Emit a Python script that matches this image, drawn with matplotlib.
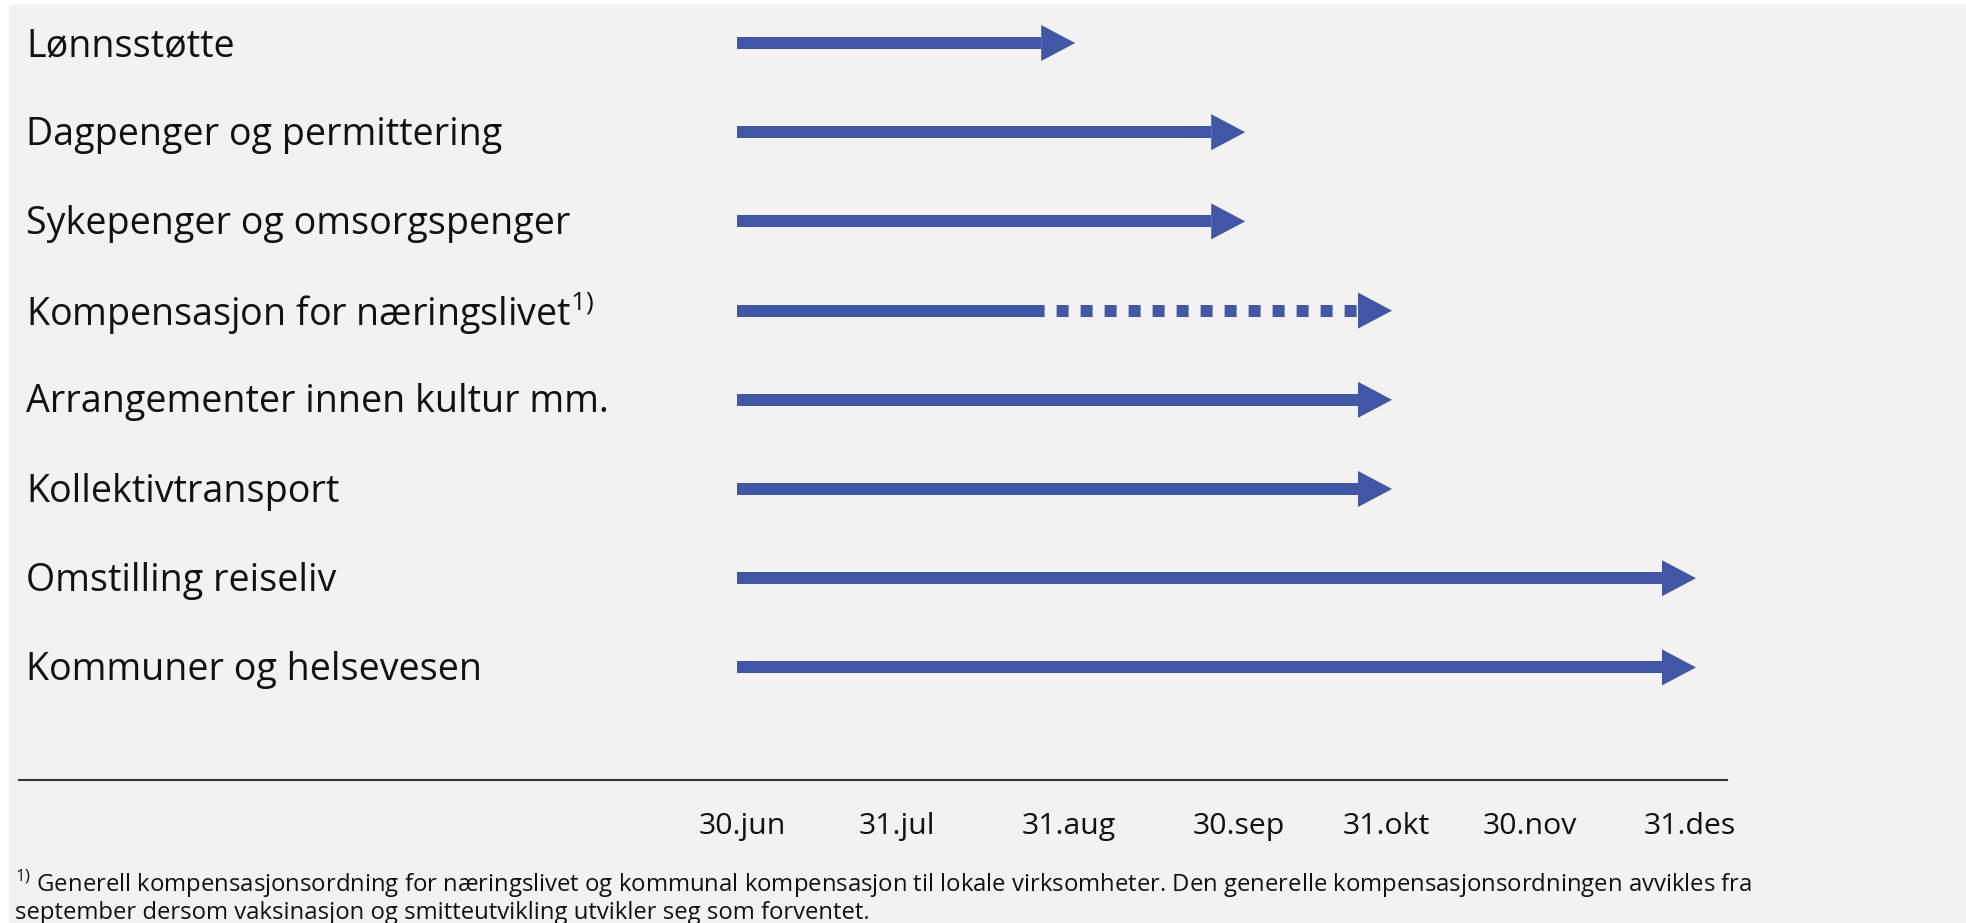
import matplotlib
matplotlib.use("Agg")
import matplotlib.pyplot as plt
from matplotlib.patches import Polygon, Rectangle
from matplotlib.transforms import blended_transform_factory

plt.rcParams["font.family"] = ["Open Sans", "DejaVu Sans"]
plt.rcParams["mathtext.fontset"] = "custom"
plt.rcParams["mathtext.rm"] = "Open Sans"

# x axis: tick labels and where they sit (days after 30.jun)
ticks = ["30.jun", "31.jul", "31.aug", "30.sep", "31.okt", "30.nov", "31.des"]
tick_days = [0, 30, 63.5, 96.5, 125, 153, 184]

labels = ["Lønnsstøtte",
          "Dagpenger og permittering",
          "Sykepenger og omsorgspenger",
          "Kompensasjon for næringslivet$^{\\mathrm{1)}}$",
          "Arrangementer innen kultur mm.",
          "Kollektivtransport",
          "Omstilling reiseliv",
          "Kommuner og helsevesen"]
starts = ["30.jun"] * 8
ends = ["31.aug", "30.sep", "30.sep", "31.okt", "31.okt", "31.okt", "31.des", "31.des"]
dotted_from = [None, None, None, "31.aug", None, None, None, None]

footnote = ["$^{\\mathrm{1)}}$ Generell kompensasjonsordning for næringslivet og kommunal kompensasjon "
            "til lokale virksomheter. Den generelle kompensasjonsordningen avvikles fra",
            "september dersom vaksinasjon og smitteutvikling utvikler seg som forventet."]

blue = "#4157a6"
W, H = 1966, 923
fig = plt.figure(figsize=(W / 100, H / 100), dpi=100)
fig.patches.append(Rectangle((9 / W, 0), 1, (H - 5) / H, transform=fig.transFigure,
                             color="#f2f2f2", zorder=-10))

ax = fig.add_axes([19 / W, (H - 780) / H, (1727 - 19) / W, 780 / H])
ax.set_facecolor("none")
px_per_day = (1690 - 742) / 184.0
ax.set_xlim((19 - 742) / px_per_day, (1727 - 742) / px_per_day)
row_px = 89.2
ax.set_ylim((780 - 43) / row_px, -43 / row_px)

pos = dict(zip(ticks, tick_days))
head_len = 34 / px_per_day
head_half = 18 / row_px
overhang_l = 5 / px_per_day
overhang_r = 6 / px_per_day
lw = 12 * 0.72

for i, lab in enumerate(labels):
    x0 = pos[starts[i]] - overhang_l
    tip = pos[ends[i]] + overhang_r
    base = tip - head_len
    if dotted_from[i] is not None:
        xd = pos[dotted_from[i]] + overhang_r - head_len
        ax.plot([x0, xd], [i, i], color=blue, lw=lw, solid_capstyle="butt")
        ax.plot([xd, base], [i, i], color=blue, lw=lw, dash_capstyle="butt",
                linestyle=(0.7, (1, 1)))
    else:
        ax.plot([x0, base], [i, i], color=blue, lw=lw, solid_capstyle="butt")
    ax.add_patch(Polygon([(base, i - head_half), (tip, i), (base, i + head_half)],
                         closed=True, color=blue, lw=0))

trans = blended_transform_factory(fig.transFigure, ax.transData)
for i, lab in enumerate(labels):
    ax.text(26 / W, i + 0.03, lab, transform=trans, fontsize=27.1, va="center",
            ha="left", color="#111111")

for s in ["top", "right", "left"]:
    ax.spines[s].set_visible(False)
ax.spines["bottom"].set_color("#333333")
ax.spines["bottom"].set_linewidth(1.5)
ax.set_yticks([])
ax.set_xticks(tick_days)
ax.set_xticklabels(ticks, fontsize=21.8, color="#111111")
ax.tick_params(axis="x", length=0, pad=23)

fig.text(15 / W, 1 - 892 / H, footnote[0], fontsize=17.2, va="baseline", ha="left",
         color="#111111")
fig.text(15 / W, 1 - 919 / H, footnote[1], fontsize=17.2, va="baseline", ha="left",
         color="#111111")

fig.savefig("out.png", dpi=100)
